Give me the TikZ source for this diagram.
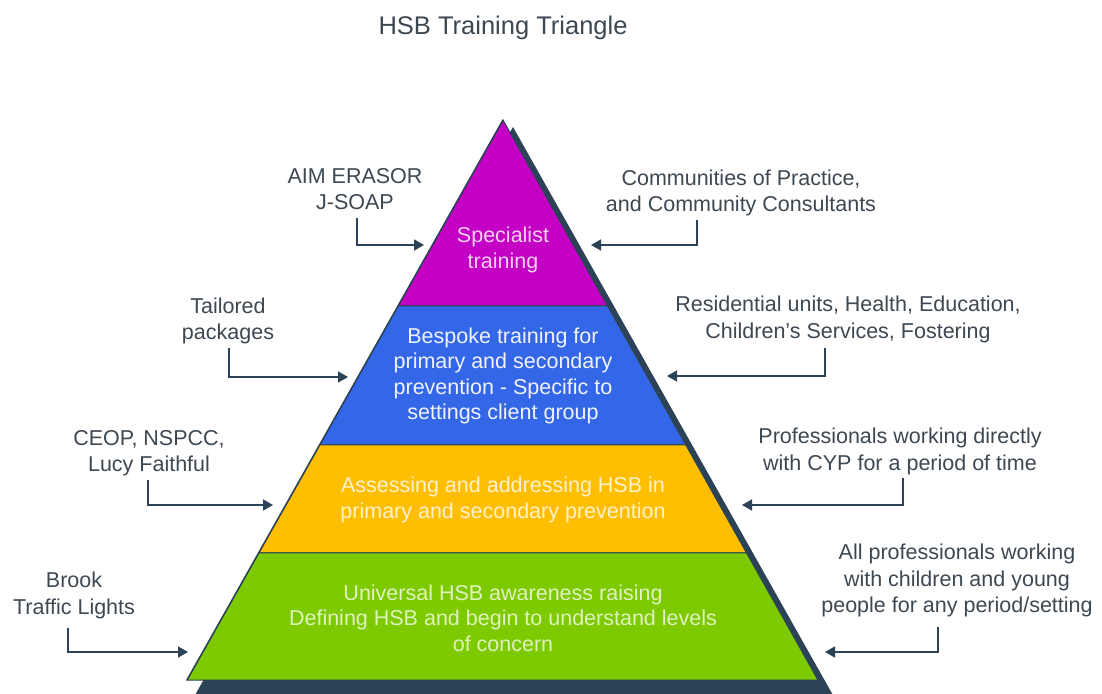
\documentclass[tikz,border=0pt]{standalone}
\usepackage{fontspec}
\setmainfont{Liberation Sans}
\usepackage{xcolor}
\usetikzlibrary{arrows.meta}
\usetikzlibrary{calc}
\definecolor{dslate}{RGB}{44,66,86}
\definecolor{labtext}{RGB}{62,72,82}
\definecolor{tpurple}{RGB}{196,0,196}
\definecolor{tblue}{RGB}{52,102,232}
\definecolor{torange}{RGB}{255,190,0}
\definecolor{tgreen}{RGB}{126,202,0}
\colorlet{ptext}{white!82!tpurple}
\colorlet{btext}{white!92!tblue}
\colorlet{otext}{white!80!torange}
\colorlet{gtext}{white!75!tgreen}
\tikzstyle{ttl}=[font=\fontsize{25.5}{30}\selectfont,text=labtext,inner sep=0pt]
\tikzstyle{lab}=[font=\fontsize{21.5}{26.5}\selectfont,text=labtext,align=center,inner sep=0pt]
\tikzstyle{band}=[font=\fontsize{21.5}{25.5}\selectfont,align=center,inner sep=0pt]
\tikzstyle{feed}=[draw=dslate,line width=1.6pt,-{Triangle[length=10pt,width=11pt]}]
\begin{document}
\begin{tikzpicture}[x=1pt,y=-1pt]
\useasboundingbox[fill=white] (0,0) rectangle (1102,693);
\node[ttl] (title) at (503,28) {HSB Training Triangle};
% pyramid
\coordinate (apex) at (503,120);
\coordinate (bl) at (187,680);
\coordinate (br) at (818,680);
\fill[dslate] (513,127) -- (194,697) -- (834,697) -- cycle;
\foreach \a/\b/\c in {0/.332/tpurple,.332/.58/tblue,.58/.773/torange,.773/1/tgreen}
  \filldraw[fill=\c,draw=dslate,line width=1pt] ($(apex)!\a!(bl)$) -- ($(apex)!\b!(bl)$)
    -- ($(apex)!\b!(br)$) -- ($(apex)!\a!(br)$) -- cycle;
\draw[dslate,line width=1.5pt] (apex) -- (bl);
% band texts
\node[band,text=ptext] (spec) at (503,250) {Specialist\\training};
\node[band,text=btext] (besp) at (503,376) {Bespoke training for\\primary and secondary\\prevention - Specific to\\settings client group};
\node[band,text=otext] (asse) at (503,500) {Assessing and addressing HSB in\\primary and secondary prevention};
\node[band,text=gtext] (univ) at (503,618) {Universal HSB awareness raising\\Defining HSB and begin to understand levels\\of concern};
% left side
\node[lab] (aim) at (355,189) {AIM ERASOR\\J-SOAP};
\node[lab] (tail) at (228,321) {Tailored\\packages};
\node[lab] (ceop) at (149,453) {CEOP, NSPCC,\\Lucy Faithful};
\node[lab] (brook) at (74,595.5) {Brook\\Traffic Lights};
\coordinate (aimtip) at (424,245);
\coordinate (tailtip) at (348,377);
\coordinate (ceoptip) at (273,505);
\coordinate (brooktip) at (188,652);
\draw[feed] ([xshift=2pt,yshift=-8pt]aim.south) |- (aimtip);
\draw[feed] ([xshift=1pt,yshift=-4pt]tail.south) |- (tailtip);
\draw[feed] ([xshift=-1pt,yshift=-4pt]ceop.south) |- (ceoptip);
\draw[feed] ([xshift=-6pt,yshift=-9pt]brook.south) |- (brooktip);
% right side
\node[lab] (comm) at (741,193) {Communities of Practice,\\and Community Consultants};
\node[lab] (resi) at (848,319.5) {Residential units, Health, Education,\\Children’s Services, Fostering};
\node[lab] (prof) at (900,451.5) {Professionals working directly\\with CYP for a period of time};
\node[lab] (allp) at (957,580.5) {All professionals working\\with children and young\\people for any period/setting};
\coordinate (commtip) at (591,245);
\coordinate (resitip) at (667,376);
\coordinate (proftip) at (742,505);
\coordinate (allptip) at (825,652);
\draw[feed] ([xshift=-44pt,yshift=-4pt]comm.south) |- (commtip);
\draw[feed] ([xshift=-23pt,yshift=-5pt]resi.south) |- (resitip);
\draw[feed] ([xshift=3pt,yshift=-3pt]prof.south) |- (proftip);
\draw[feed] ([xshift=-19pt,yshift=-10pt]allp.south) |- (allptip);
\end{tikzpicture}
\end{document}
